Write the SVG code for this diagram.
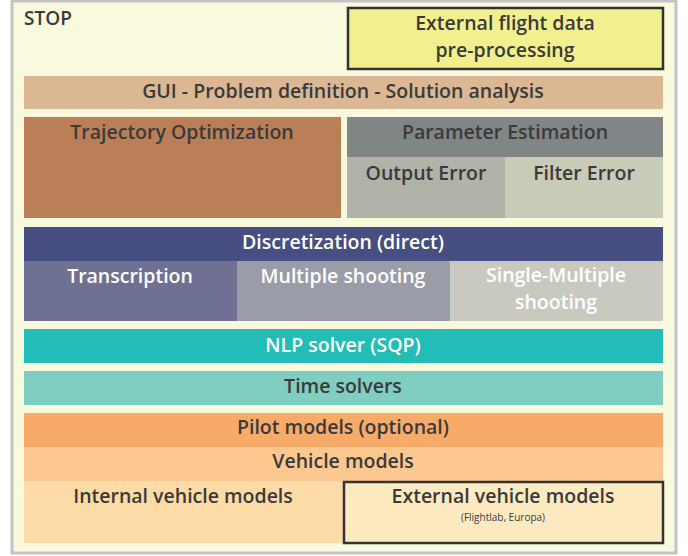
<svg xmlns="http://www.w3.org/2000/svg" width="688" height="556" viewBox="0 0 688 556">
  <style>
    text { font-family: "Open Sans", "Noto Sans", "DejaVu Sans", sans-serif; font-size: 19.5px; font-weight: 600; fill: #3a3a3a; text-anchor: middle; }
    .w { fill: #ffffff; }
    .l { text-anchor: start; }
    .small { font-size: 10px; font-weight: 500; }
    .box { stroke: #333333; stroke-width: 2.5; }
  </style>

  <!-- frame -->
  <rect x="12" y="1" width="664" height="552" fill="#f9f9dd" stroke="#c4c4c4" stroke-width="3"/>
  <text class="l" x="24" y="25" style="font-size:19px">STOP</text>

  <g id="flight-data">
    <rect class="box" x="348" y="8" width="315" height="61" fill="#f2f08e"/>
    <text x="505" y="30">External flight data</text>
    <text x="505" y="57">pre-processing</text>
  </g>

  <g id="gui">
    <rect x="24" y="76" width="639" height="33" fill="#dbb793"/>
    <text x="343" y="98">GUI - Problem definition - Solution analysis</text>
  </g>

  <g id="trajectory-optimization">
    <rect x="24" y="117" width="317" height="101" fill="#bb7f57"/>
    <text x="182" y="139">Trajectory Optimization</text>
  </g>

  <g id="parameter-estimation">
    <rect x="347" y="117" width="316" height="40" fill="#808585"/>
    <text x="505" y="139">Parameter Estimation</text>
  </g>
  <g id="output-error">
    <rect x="347" y="157" width="158" height="61" fill="#b1b3a9"/>
    <text x="426" y="180">Output Error</text>
  </g>
  <g id="filter-error">
    <rect x="505" y="157" width="158" height="61" fill="#c8cbb8"/>
    <text x="584" y="180">Filter Error</text>
  </g>

  <g id="discretization">
    <rect x="24" y="227" width="639" height="34" fill="#474e82"/>
    <text class="w" x="343" y="249">Discretization (direct)</text>
  </g>
  <g id="transcription">
    <rect x="24" y="261" width="213" height="60" fill="#6f7194"/>
    <text class="w" x="130" y="283">Transcription</text>
  </g>
  <g id="multiple-shooting">
    <rect x="237" y="261" width="213" height="60" fill="#9a9ca8"/>
    <text class="w" x="343" y="283">Multiple shooting</text>
  </g>
  <g id="single-multiple-shooting">
    <rect x="450" y="261" width="213" height="60" fill="#c9c9c0"/>
    <text class="w" x="556" y="282">Single-Multiple</text>
    <text class="w" x="556" y="309">shooting</text>
  </g>

  <g id="nlp-solver">
    <rect x="24" y="329" width="639" height="34" fill="#22bdb6"/>
    <text class="w" x="343" y="352">NLP solver (SQP)</text>
  </g>

  <g id="time-solvers">
    <rect x="24" y="371" width="639" height="34" fill="#80cdc1"/>
    <text x="343" y="393">Time solvers</text>
  </g>

  <g id="pilot-models">
    <rect x="24" y="413" width="639" height="34" fill="#f8ab68"/>
    <text x="343" y="434">Pilot models (optional)</text>
  </g>

  <g id="vehicle-models">
    <rect x="24" y="447" width="639" height="34" fill="#fcc890"/>
    <text x="343" y="468">Vehicle models</text>
  </g>

  <g id="internal-vehicle-models">
    <rect x="24" y="481" width="319" height="62" fill="#fddba6"/>
    <text x="183" y="503">Internal vehicle models</text>
  </g>

  <g id="external-vehicle-models">
    <rect class="box" x="344" y="482" width="319" height="61" fill="#fdeac0"/>
    <text x="503" y="503">External vehicle models</text>
    <text class="small" x="503" y="521">(Flightlab, Europa)</text>
  </g>
</svg>
